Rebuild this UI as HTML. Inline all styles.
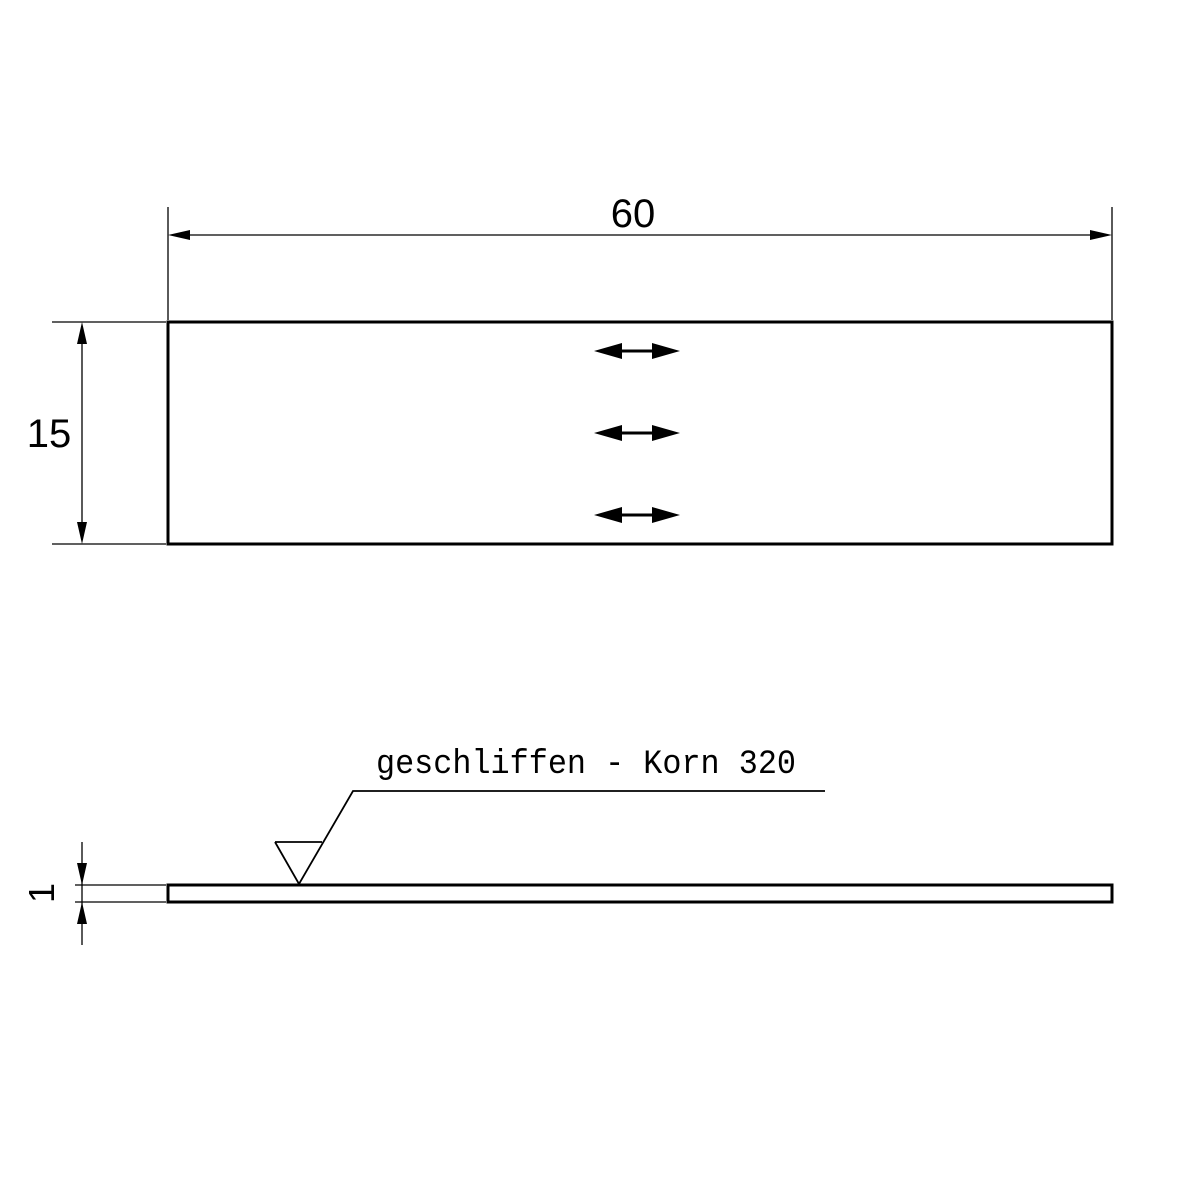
<!DOCTYPE html>
<html><head><style>body{margin:0;background:#fff}svg{display:block}</style></head><body>
<svg width="1200" height="1200" viewBox="0 0 1200 1200" xmlns="http://www.w3.org/2000/svg">
<rect x="0" y="0" width="1200" height="1200" fill="#fff"/>
<g stroke="#000" fill="none">
<rect x="168" y="322" width="944" height="222" stroke-width="3"/>
<line x1="168" y1="207" x2="168" y2="320" stroke-width="1.3"/>
<line x1="1112" y1="207" x2="1112" y2="320" stroke-width="1.3"/>
<line x1="172" y1="235" x2="1108" y2="235" stroke-width="1.3"/>
<line x1="52" y1="322" x2="166" y2="322" stroke-width="1.3"/>
<line x1="52" y1="544" x2="166" y2="544" stroke-width="1.3"/>
<line x1="82" y1="326" x2="82" y2="540" stroke-width="1.3"/>
<rect x="168" y="885" width="944" height="17" stroke-width="3"/>
<line x1="75" y1="885" x2="166" y2="885" stroke-width="1.3"/>
<line x1="75" y1="902" x2="166" y2="902" stroke-width="1.3"/>
<line x1="82" y1="842" x2="82" y2="945" stroke-width="1.3"/>
<path d="M275 842 H322 M275 842 L299 884 L353 791 H825" stroke-width="1.8"/>
<line x1="605" y1="351" x2="670" y2="351" stroke-width="3"/>
<line x1="605" y1="433" x2="670" y2="433" stroke-width="3"/>
<line x1="605" y1="515" x2="670" y2="515" stroke-width="3"/>
</g>
<g fill="#000">
<path d="M168 235 L190 230 L190 240Z"/><path d="M1112 235 L1090 230 L1090 240Z"/>
<path d="M82 322 L77 344 L87 344Z"/><path d="M82 544 L77 522 L87 522Z"/>
<path d="M82 885 L77 863 L87 863Z"/><path d="M82 902 L77 924 L87 924Z"/>
<path d="M594 351 L622 343 L622 359Z"/><path d="M680 351 L652 343 L652 359Z"/>
<path d="M594 433 L622 425 L622 441Z"/><path d="M680 433 L652 425 L652 441Z"/>
<path d="M594 515 L622 507 L622 523Z"/><path d="M680 515 L652 507 L652 523Z"/>
</g>
<g font-family="Liberation Sans, sans-serif" fill="#000">
<text x="633" y="227" font-size="40" text-anchor="middle">60</text>
<text x="49" y="447" font-size="40" text-anchor="middle">15</text>
<text x="0" y="0" font-size="36" text-anchor="middle" transform="translate(54,893) rotate(-90)">1</text>
<text x="376" y="773" font-size="34" font-family="Liberation Mono, monospace" textLength="420" lengthAdjust="spacingAndGlyphs">geschliffen - Korn 320</text>
</g>
</svg>
</body></html>
